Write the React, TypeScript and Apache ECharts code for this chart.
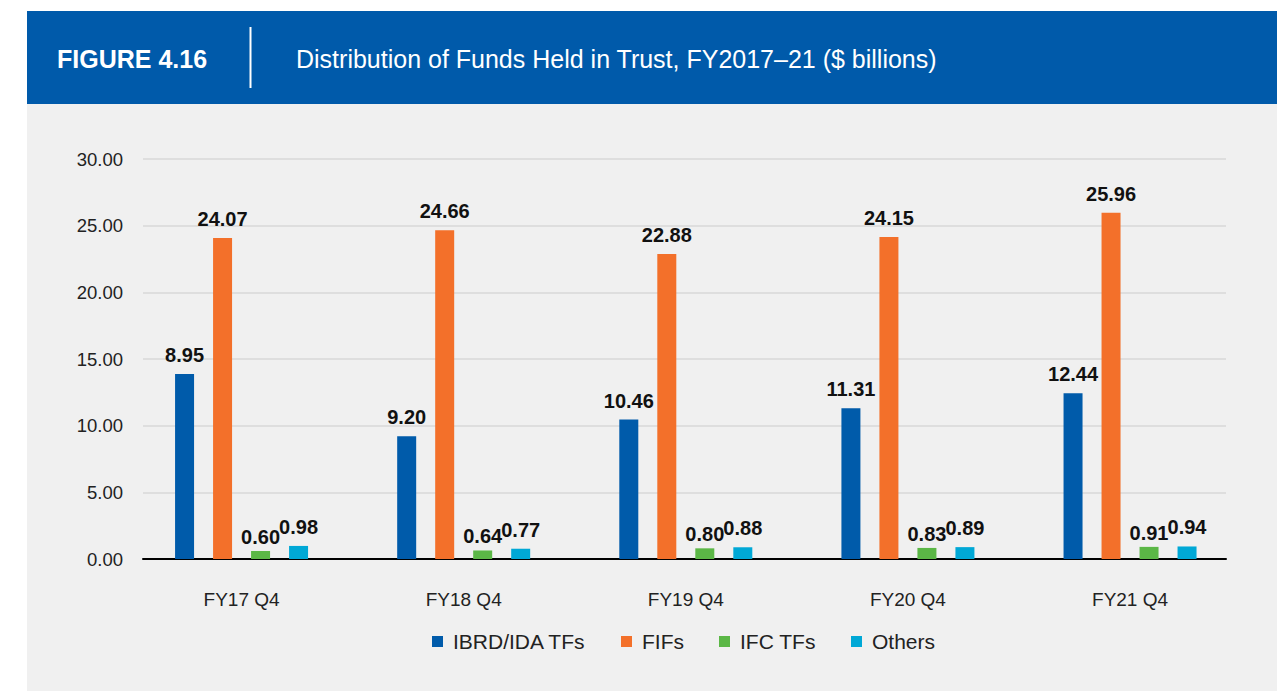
import React, { useEffect, useRef } from "react";
import * as echarts from "echarts";

const categories = ["FY17 Q4", "FY18 Q4", "FY19 Q4", "FY20 Q4", "FY21 Q4"];
const seriesNames = ["IBRD/IDA TFs", "FIFs", "IFC TFs", "Others"];
// drawn bar heights as they appear in the figure
const ibrdIda = [13.87, 9.2, 10.46, 11.31, 12.44];
// printed labels in the figure (first one differs from the drawn bar)
const ibrdIdaLabels = ["8.95", "9.20", "10.46", "11.31", "12.44"];
const fifs = [24.07, 24.66, 22.88, 24.15, 25.96];
const ifcTfs = [0.6, 0.64, 0.8, 0.83, 0.91];
const others = [0.98, 0.77, 0.88, 0.89, 0.94];
const yTicks = { min: 0, max: 30, interval: 5 };
const colors = ["#005BAA", "#F3702A", "#5BB746", "#00A8D6"];
const titleLeft = "FIGURE 4.16";
const titleRight = "Distribution of Funds Held in Trust, FY2017\u201321 ($ billions)";

const FONT = "'Liberation Sans', Arial, sans-serif";
const legendLefts = [432, 621, 719, 851];

export default function App() {
  const ref = useRef<HTMLDivElement>(null);
  useEffect(() => {
    if (!ref.current) return;
    const chart = echarts.init(ref.current, undefined, { renderer: "svg" });
    const labelBase = {
      show: true,
      position: "top",
      color: "#111",
      fontWeight: "bold",
      fontSize: 20,
      fontFamily: FONT,
    };
    const mk = (name: string, data: number[], color: string, extra: any) => ({
      name,
      type: "bar",
      xAxisIndex: 0,
      yAxisIndex: 0,
      data,
      barWidth: 19,
      barGap: "100%",
      itemStyle: { color },
      label: { ...labelBase, ...extra },
    });
    chart.setOption({
      animation: false,
      textStyle: { fontFamily: FONT },
      graphic: [
        { type: "rect", shape: { x: 27, y: 104, width: 1250, height: 587 }, style: { fill: "#F0F0F0" }, z: -10 },
        { type: "rect", shape: { x: 27, y: 11, width: 1250, height: 93 }, style: { fill: "#005AAA" }, z: -10 },
        {
          type: "text",
          x: 57,
          y: 59,
          style: { text: titleLeft, fill: "#fff", font: `bold 25px ${FONT}`, textVerticalAlign: "middle" },
        },
        { type: "line", shape: { x1: 250.5, y1: 27, x2: 250.5, y2: 88 }, style: { stroke: "#fff", lineWidth: 2 } },
        {
          type: "text",
          x: 296,
          y: 59,
          style: { text: titleRight, fill: "#fff", font: `25px ${FONT}`, textVerticalAlign: "middle" },
        },
      ],
      legend: seriesNames.map((n, i) => ({
        data: [n],
        left: legendLefts[i],
        top: 631,
        padding: 0,
        icon: "rect",
        itemWidth: 11,
        itemHeight: 11,
        textStyle: { fontSize: 21, color: "#222", fontFamily: FONT, padding: [0, 0, 0, 5] },
      })),
      grid: [
        { left: 130.5, width: 1110.6, top: 159, height: 400 },
        { left: 143, width: 1083, top: 159, height: 400 },
      ],
      xAxis: [
        {
          type: "category",
          gridIndex: 0,
          data: categories,
          axisLine: { show: false },
          axisTick: { show: false },
          axisLabel: { color: "#222", fontSize: 19, margin: 31, fontFamily: FONT },
        },
        {
          type: "value",
          gridIndex: 1,
          min: 0,
          max: 1,
          axisLine: { show: true, lineStyle: { color: "#000", width: 2 } },
          axisTick: { show: false },
          axisLabel: { show: false },
          splitLine: { show: false },
        },
      ],
      yAxis: [
        { type: "value", gridIndex: 0, ...yTicks, show: false, splitLine: { show: false } },
        {
          type: "value",
          gridIndex: 1,
          ...yTicks,
          axisLine: { show: false },
          axisTick: { show: false },
          axisLabel: {
            color: "#222",
            fontSize: 18.5,
            margin: 20,
            fontFamily: FONT,
            formatter: (v: number) => v.toFixed(2),
          },
          splitLine: { lineStyle: { color: "#D8D8D8", width: 1.5 } },
        },
      ],
      series: [
        mk(seriesNames[0], ibrdIda, colors[0], {
          distance: 9,
          formatter: (p: any) => ibrdIdaLabels[p.dataIndex],
        }),
        mk(seriesNames[1], fifs, colors[1], { distance: 9, formatter: (p: any) => p.value.toFixed(2) }),
        mk(seriesNames[2], ifcTfs, colors[2], { distance: 4, formatter: (p: any) => p.value.toFixed(2) }),
        mk(seriesNames[3], others, colors[3], { distance: 9, formatter: (p: any) => p.value.toFixed(2) }),
      ],
    });
    return () => chart.dispose();
  }, []);
  return (
    <div
      ref={ref}
      style={{ position: "fixed", left: 0, top: 0, width: 1277, height: 691, background: "#fff" }}
    />
  );
}
